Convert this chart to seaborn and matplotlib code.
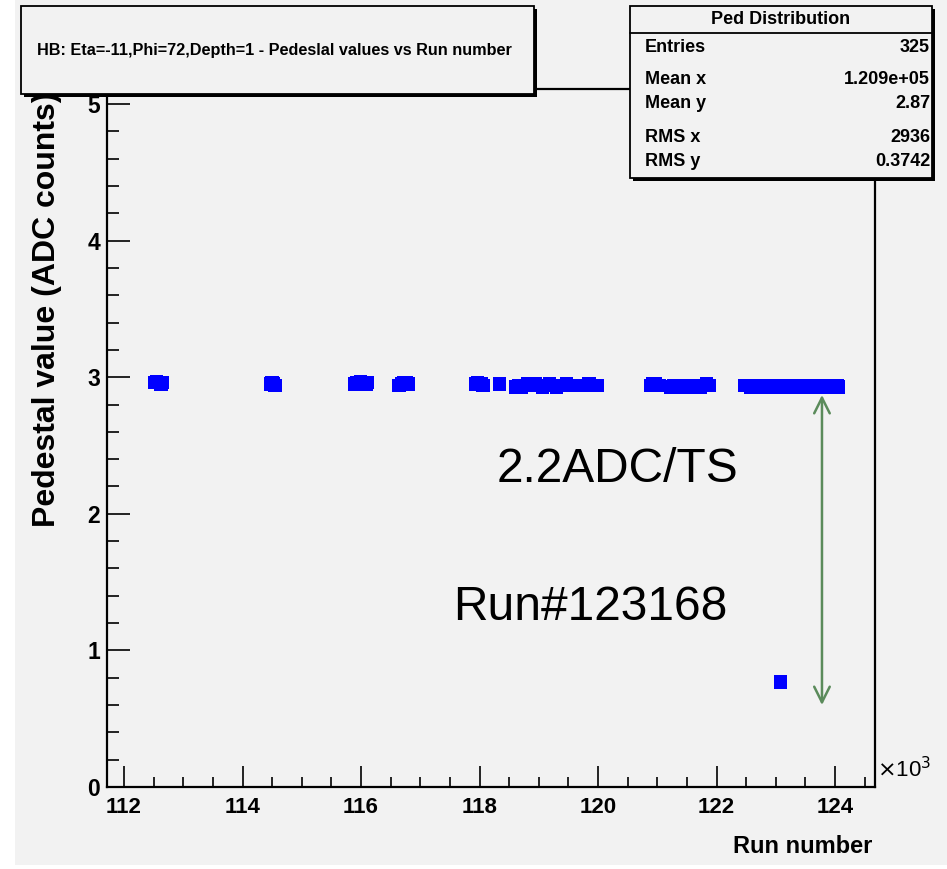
import matplotlib
matplotlib.use("Agg")
import matplotlib.pyplot as plt
import seaborn as sns
import pandas as pd
from matplotlib.patches import Rectangle
from matplotlib.lines import Line2D
from matplotlib.ticker import MultipleLocator, FuncFormatter

# ---------------- data ----------------
run_numbers = [
    112520, 112545, 112570, 112595, 112620, 112640,
    114480, 114500, 114525, 114550,
    115900, 115930, 115960, 115990, 116020, 116050, 116080, 116110,
    116640, 116680, 116720, 116760, 116790,
    117940, 117970, 118000, 118030, 118060,
    118340,
    118620, 118660, 118700, 118740, 118780, 118820, 118860, 118900, 118940,
    118980, 119020, 119060, 119100, 119140, 119180, 119220, 119260, 119300,
    119380, 119420, 119470, 119520, 119570, 119620,
    119800, 119850, 119900, 119950, 119980,
    120890, 120930, 120970, 121010, 121030,
    121230, 121280, 121330, 121380, 121430, 121480, 121530, 121580, 121630,
    121680, 121730, 121780, 121830, 121870,
    122480, 122530, 122580, 122630, 122680, 122730, 122780, 122830, 122880,
    122930, 122980, 123030, 123080, 123130, 123180, 123230, 123280, 123330,
    123380, 123430, 123480, 123530, 123580, 123630, 123680, 123730, 123780,
    123830, 123880, 123930, 123980, 124030, 124050,
]
pedestals = [
    2.96, 2.97, 2.96, 2.96, 2.95, 2.96,
    2.95, 2.96, 2.95, 2.94,
    2.95, 2.96, 2.96, 2.97, 2.96, 2.96, 2.95, 2.96,
    2.94, 2.95, 2.96, 2.96, 2.95,
    2.95, 2.96, 2.95, 2.95, 2.94,
    2.95,
    2.93, 2.94, 2.93, 2.94, 2.94, 2.95, 2.94, 2.94, 2.95,
    2.94, 2.94, 2.93, 2.94, 2.94, 2.95, 2.94, 2.94, 2.93,
    2.94, 2.94, 2.95, 2.94, 2.94, 2.94,
    2.94, 2.95, 2.94, 2.94, 2.94,
    2.94, 2.95, 2.95, 2.94, 2.94,
    2.93, 2.94, 2.94, 2.94, 2.93, 2.94, 2.94, 2.93, 2.94,
    2.93, 2.93, 2.94, 2.95, 2.94,
    2.94, 2.94, 2.93, 2.94, 2.94, 2.93, 2.94, 2.94, 2.93,
    2.94, 2.94, 2.93, 2.93, 2.94, 2.93, 2.94, 2.94, 2.93,
    2.94, 2.93, 2.94, 2.94, 2.93, 2.94, 2.93, 2.94, 2.93,
    2.93, 2.94, 2.93, 2.93, 2.94, 2.93,
]
outlier_run = [123080]
outlier_ped = [0.77]

stats_labels = ["Entries", "Mean x", "Mean y", "RMS x", "RMS y"]
stats_values = ["325", "1.209e+05", "2.87", "2936", "0.3742"]

title_text = "HB: Eta=-11,Phi=72,Depth=1 - Pedeslal values vs Run number"

df = pd.DataFrame({"run": run_numbers + outlier_run,
                   "ped": pedestals + outlier_ped})

# ---------------- style ----------------
sns.set_theme(style="ticks")
FONT = ["Liberation Sans", "DejaVu Sans"]
plt.rcParams["font.family"] = FONT
for key in ["text.color", "axes.labelcolor", "xtick.color", "ytick.color",
            "xtick.labelcolor", "ytick.labelcolor", "axes.edgecolor"]:
    plt.rcParams[key] = "black"

W, H = 947, 869
BG = "#f2f2f2"
fig = plt.figure(figsize=(W / 100, H / 100), dpi=100, facecolor="white")
fig.patches.append(Rectangle((15 / W, 4 / H), 1 - 15 / W, 1 - 4 / H,
                             transform=fig.transFigure, facecolor=BG,
                             edgecolor="none", zorder=-5))

ax = fig.add_axes([107 / W, 1 - 787 / H, (875 - 107) / W, (787 - 89) / H])
ax.set_facecolor(BG)
ax.set_zorder(1)

sns.scatterplot(data=df, x="run", y="ped", marker="s", s=95, color="#0000ff",
                edgecolor="none", linewidth=0, ax=ax, zorder=3)

ax.set_xlim(111713, 124675)
ax.set_ylim(0, 5.11)
ax.xaxis.set_major_locator(MultipleLocator(2000))
ax.xaxis.set_minor_locator(MultipleLocator(500))
ax.yaxis.set_major_locator(MultipleLocator(1))
ax.yaxis.set_minor_locator(MultipleLocator(0.2))
ax.xaxis.set_major_formatter(FuncFormatter(lambda v, p: f"{v / 1000:.0f}"))
ax.yaxis.set_major_formatter(FuncFormatter(lambda v, p: f"{v:.0f}"))
ax.tick_params(which="both", direction="in", top=False, right=False,
               color="black", width=1.2)
ax.tick_params(axis="x", which="major", length=15, pad=7, labelsize=16)
ax.tick_params(axis="x", which="minor", length=7.5)
ax.tick_params(axis="y", which="major", length=16.5, pad=5, labelsize=16.5)
ax.tick_params(axis="y", which="minor", length=8.3)
for lab in ax.get_xticklabels() + ax.get_yticklabels():
    lab.set_fontweight("bold")
for sp in ax.spines.values():
    sp.set_color("black")
    sp.set_linewidth(1.6)
ax.set_xlabel("")
ax.set_ylabel("")

# axis titles
fig.text(872 / W, 1 - 858 / H, "Run number", ha="right", va="bottom",
         fontsize=17, fontweight="bold")
fig.text(47 / W, 1 - 527 / H, "Pedestal value (ADC counts)", rotation=90,
         ha="center", va="bottom", fontsize=23, fontweight="bold")
fig.text(877 / W, 1 - 782 / H, r"$\times$10$^{3}$", ha="left", va="bottom",
         fontsize=16)

# annotations
ax.annotate("", xy=(123780, 0.60), xytext=(123780, 2.87),
            arrowprops=dict(arrowstyle="<->", color="#5b8b5b", lw=1.8,
                            mutation_scale=28, shrinkA=0, shrinkB=0))
fig.text(497 / W, 1 - 482 / H, "2.2ADC/TS", ha="left", va="baseline",
         fontsize=34.5, zorder=12)
fig.text(453 / W, 1 - 620 / H, "Run#123168", ha="left", va="baseline",
         fontsize=34.5, zorder=12)


def box(x0, y0, x1, y1):
    """Draw a ROOT-like pave with shadow (pixel coords, y from top)."""
    fig.patches.append(Rectangle((x0 / W + 3 / W, 1 - (y1 + 3) / H),
                                 (x1 - x0) / W, (y1 - y0) / H,
                                 transform=fig.transFigure, facecolor="black",
                                 edgecolor="none", zorder=8))
    fig.patches.append(Rectangle((x0 / W, 1 - y1 / H), (x1 - x0) / W,
                                 (y1 - y0) / H, transform=fig.transFigure,
                                 facecolor=BG, edgecolor="black", lw=1.3,
                                 zorder=9))


# title pave
box(21, 6, 534, 94)
fig.text(37 / W, 1 - 50 / H, title_text, ha="left", va="center",
         fontsize=11.7, fontweight="bold", zorder=10)

# stats pave
box(630, 6, 932, 178)
fig.lines.append(Line2D([630 / W, 932 / W], [1 - 33 / H, 1 - 33 / H],
                        transform=fig.transFigure, color="black", lw=1.3,
                        zorder=10))
fig.text(781 / W, 1 - 20 / H, "Ped Distribution", ha="center", va="center",
         fontsize=13, fontweight="bold", zorder=10)
row_y = [48, 79, 103, 137, 162]
for lab, val, yy in zip(stats_labels, stats_values, row_y):
    fig.text(645 / W, 1 - yy / H, lab, ha="left", va="center", fontsize=13,
             fontweight="bold", zorder=10)
    fig.text(930 / W, 1 - yy / H, val, ha="right", va="center", fontsize=13,
             fontweight="bold", zorder=10)

fig.savefig("out.png", dpi=100, facecolor="white")
